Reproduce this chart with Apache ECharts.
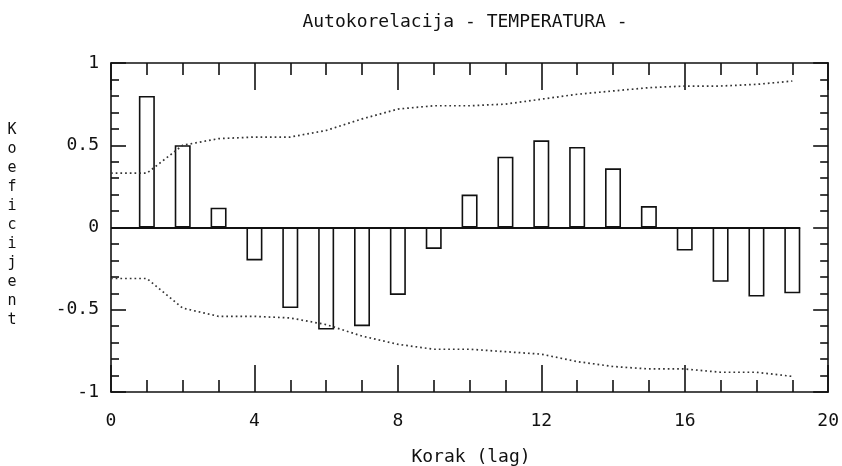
<!DOCTYPE html>
<html>
<head>
<meta charset="utf-8">
<script src="https://cdn.jsdelivr.net/npm/echarts@6/dist/echarts.min.js"></script>
<style>html,body{margin:0;padding:0;background:#fff;}#c{width:842px;height:466px;}</style>
</head>
<body>
<div id="c"></div>
<script>
// Data
var lags = [1,2,3,4,5,6,7,8,9,10,11,12,13,14,15,16,17,18,19];
var acf = [0.80,0.50,0.12,-0.20,-0.49,-0.62,-0.60,-0.41,-0.13,0.20,0.43,0.53,0.49,0.36,0.13,-0.14,-0.33,-0.42,-0.40];
var bandLags = [0,1,2,3,4,5,6,7,8,9,10,11,12,13,14,15,16,17,18,19];
var upperBand = [0.33,0.33,0.50,0.54,0.55,0.55,0.59,0.66,0.72,0.74,0.74,0.75,0.78,0.81,0.83,0.85,0.86,0.86,0.87,0.89];
var lowerBand = [-0.31,-0.31,-0.49,-0.54,-0.54,-0.55,-0.59,-0.66,-0.71,-0.74,-0.74,-0.755,-0.77,-0.815,-0.845,-0.86,-0.86,-0.88,-0.88,-0.905];
var xTicks = [0,4,8,12,16,20];
var yTicks = [-1,-0.5,0,0.5,1];
var title = 'Autokorelacija - TEMPERATURA -';
var xName = 'Korak (lag)';
var yName = 'Koeficijent';

var FONT = '"DejaVu Sans Mono", "Liberation Mono", monospace';
var INK = '#111';
var chart = echarts.init(document.getElementById('c'), null, {renderer: 'canvas'});

function pairs(xs, ys){ return xs.map(function(x,i){ return [x, ys[i]]; }); }

function xAxisCfg(pos, showLabel){
  return {
    type: 'value', position: pos, min: xTicks[0], max: xTicks[xTicks.length-1], interval: 4,
    axisLine: {show: true, onZero: false, lineStyle: {color: INK, width: 1.6}},
    axisTick: {show: true, inside: true, length: 27, lineStyle: {color: INK, width: 1.6}},
    minorTick: {show: true, splitNumber: 4, length: 12, lineStyle: {color: INK, width: 1.6}},
    axisLabel: {show: showLabel, margin: 20, fontFamily: FONT, fontSize: 18, color: INK,
      formatter: function(v){ return String(v); }},
    splitLine: {show: false}, minorSplitLine: {show: false}
  };
}
function yAxisCfg(pos, showLabel){
  return {
    type: 'value', position: pos, min: yTicks[0], max: yTicks[yTicks.length-1], interval: 0.5,
    axisLine: {show: true, onZero: false, lineStyle: {color: INK, width: 1.6}},
    axisTick: {show: true, inside: true, length: 15, lineStyle: {color: INK, width: 1.6}},
    minorTick: {show: true, splitNumber: 5, length: 8, lineStyle: {color: INK, width: 1.6}},
    axisLabel: {show: showLabel, margin: 12, fontFamily: FONT, fontSize: 18, color: INK,
      formatter: function(v){ return String(v); }},
    splitLine: {show: false}, minorSplitLine: {show: false}
  };
}

var option = {
  backgroundColor: '#fff',
  animation: false,
  graphic: [
    {type: 'text', x: 465, y: 13, style: {text: title, font: '18px ' + FONT, fill: INK, textAlign: 'center'}},
    {type: 'text', x: 471, y: 448, style: {text: xName, font: '18px ' + FONT, fill: INK, textAlign: 'center'}},
    {type: 'text', x: 12, y: 121, style: {text: yName.split('').join('\n'), font: '15px ' + FONT, lineHeight: 19, fill: INK, textAlign: 'center'}}
  ],
  grid: {left: 111, right: 11, top: 63, bottom: 74, containLabel: false},
  xAxis: [xAxisCfg('bottom', true), xAxisCfg('top', false)],
  yAxis: [yAxisCfg('left', true), yAxisCfg('right', false)],
  series: [
    {
      type: 'bar', xAxisIndex: 0, yAxisIndex: 0, barWidth: 16,
      data: pairs(lags, acf),
      itemStyle: {color: '#fff', borderColor: INK, borderWidth: 1.6},
      markLine: {
        silent: true, symbol: 'none', label: {show: false},
        lineStyle: {color: INK, width: 2, type: 'solid'},
        data: [[{coord: [bandLags[0], 0]}, {coord: [lags[lags.length-1] + 0.22, 0]}]]
      }
    },
    {
      type: 'line', data: pairs(bandLags, upperBand), symbol: 'none',
      lineStyle: {color: '#333', width: 1.7, type: [1.7, 3]}
    },
    {
      type: 'line', data: pairs(bandLags, lowerBand), symbol: 'none',
      lineStyle: {color: '#333', width: 1.7, type: [1.7, 3]}
    }
  ]
};
chart.setOption(option);
</script>
</body>
</html>
